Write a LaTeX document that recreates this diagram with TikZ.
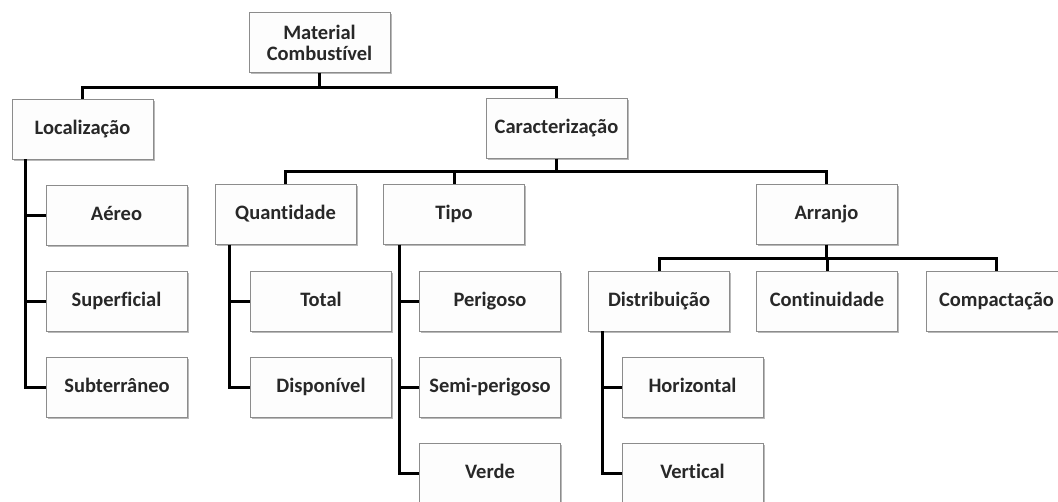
\documentclass[tikz,border=0pt]{standalone}
\usepackage{fontspec}
\setmainfont{Carlito}[Ligatures=NoCommon]
\usepackage{tikz}
\usetikzlibrary{shadows}
\definecolor{boxline}{RGB}{140, 140, 140}
\definecolor{boxfill}{RGB}{253, 253, 253}
\definecolor{boxtext}{RGB}{40, 40, 40}

\begin{document}
\begin{tikzpicture}[
    x=1pt, y=-1pt,
    box/.style={draw=boxline, line width=0.8pt, rectangle, fill=boxfill, text=boxtext, align=center,
        minimum width=141pt, minimum height=60pt, inner sep=0pt, text height=14pt, text depth=4pt,
        font=\fontsize{20.5}{21}\selectfont\bfseries,
        drop shadow={shadow xshift=1.5pt, shadow yshift=-1.5pt, fill=gray!55, opacity=1}},
    conn/.style={draw, line width=3pt, black}
]
    \path[use as bounding box, clip] (0,0) rectangle (1058,501);
    \fill[white] (0,0) rectangle (1058,501);

    \node[box, text height=, text depth=] (mat) at (319.5,42.5) {Material\\Combustível};
    \node[box] (loc) at (82.5,129) {Localização};
    \node[box] (car) at (556.5,128.5) {Caracterização};

    \node[box] (aer) at (116.5,215) {Aéreo};
    \node[box] (sup) at (116.5,301.5) {Superficial};
    \node[box] (sub) at (117,387) {Subterrâneo};

    \node[box] (qua) at (285.5,214.5) {Quantidade};
    \node[box] (tip) at (454,214.5) {Tipo};
    \node[box] (arr) at (826.5,214.5) {Arranjo};

    \node[box] (tot) at (321,301.5) {Total};
    \node[box] (dis) at (321,387.5) {Disponível};
    \node[box] (per) at (490,301.5) {Perigoso};
    \node[box] (sem) at (490,387.5) {Semi-perigoso};
    \node[box] (ver) at (490,473.5) {Verde};

    \node[box] (dst) at (659,301) {Distribuição};
    \node[box] (con) at (827,301) {Continuidade};
    \node[box] (cmp) at (996.5,301.5) {Compactação};
    \node[box] (hor) at (692.5,387.5) {Horizontal};
    \node[box] (vrt) at (692.5,473.5) {Vertical};

    \draw[conn] (mat.south) -- ++(0,14.5) -| (loc.north);
    \draw[conn] (mat.south) -- ++(0,14.5) -| (car.north);

    \draw[conn] (car.south) -- ++(0,13) -| (qua.north);
    \draw[conn] (car.south) -- ++(0,13) -| (tip.north);
    \draw[conn] (car.south) -- ++(0,13) -| (arr.north);

    \draw[conn] (arr.south) -- ++(0,13.5) -| (dst.north);
    \draw[conn] (arr.south) -- ++(0,13.5) -| (con.north);
    \draw[conn] (arr.south) -- ++(0,13.5) -| (cmp.north);

    \draw[conn] ([xshift=14pt]loc.south west) |- (aer.west);
    \draw[conn] ([xshift=14pt]loc.south west) |- (sup.west);
    \draw[conn] ([xshift=14pt]loc.south west) |- (sub.west);

    \draw[conn] ([xshift=15pt]qua.south west) |- (tot.west);
    \draw[conn] ([xshift=15pt]qua.south west) |- (dis.west);

    \draw[conn] ([xshift=16pt]tip.south west) |- (per.west);
    \draw[conn] ([xshift=16pt]tip.south west) |- (sem.west);
    \draw[conn] ([xshift=16pt]tip.south west) |- (ver.west);

    \draw[conn] ([xshift=14pt]dst.south west) |- (hor.west);
    \draw[conn] ([xshift=14pt]dst.south west) |- (vrt.west);
\end{tikzpicture}
\end{document}
